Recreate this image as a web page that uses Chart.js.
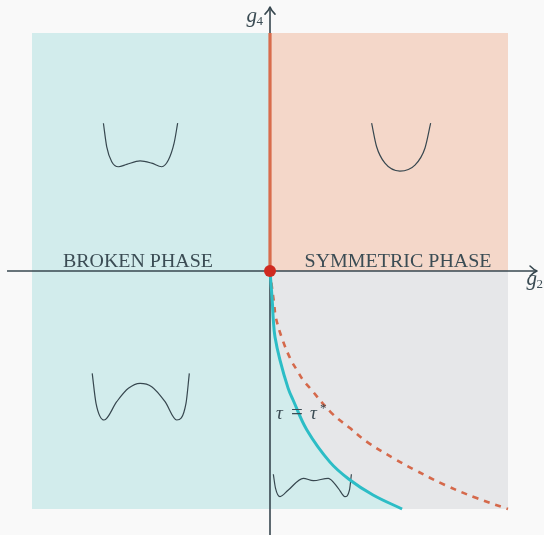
<!DOCTYPE html>
<html>
<head>
<meta charset="utf-8">
<script src="https://cdn.jsdelivr.net/npm/chart.js@4.4.3/dist/chart.umd.min.js"></script>
<style>
  html, body { margin: 0; padding: 0; background: #f9f9f9; }
  #wrap { width: 544px; height: 535px; position: relative; }
</style>
</head>
<body>
<div id="wrap"><canvas id="phaseChart"></canvas></div>
<script>
// phase diagram in the (g2, g4) plane, all values in plot units (-1..1 box)

// cyan boundary tau = tau*
const tauX = [0, 0.003, 0.010, 0.014, 0.021, 0.042, 0.076, 0.097, 0.155, 0.252, 0.336, 0.433, 0.555];
const tauY = [0, -0.038, -0.134, -0.206, -0.277, -0.374, -0.492, -0.542, -0.668, -0.803, -0.878, -0.941, -1.0];

// dashed orange curve
const dashX = [0, 0.007, 0.017, 0.025, 0.053, 0.088, 0.113, 0.139, 0.168, 0.259, 0.336, 0.406, 0.525, 0.609, 0.735, 0.868, 1.0];
const dashY = [0, -0.059, -0.134, -0.197, -0.290, -0.374, -0.416, -0.458, -0.492, -0.597, -0.660, -0.717, -0.790, -0.836, -0.899, -0.954, -1.0];

// little potential sketches
const potTopLeftX = [-0.700, -0.686, -0.665, -0.637, -0.602, -0.546, -0.497, -0.455, -0.427, -0.403, -0.388];
const potTopLeftY = [0.621, 0.522, 0.459, 0.438, 0.448, 0.463, 0.453, 0.438, 0.466, 0.537, 0.621];
const potTopRightX = [0.427, 0.448, 0.483, 0.546, 0.609, 0.651, 0.675];
const potTopRightY = [0.621, 0.522, 0.453, 0.420, 0.445, 0.516, 0.621];
const potBotLeftX = [-0.747, -0.731, -0.697, -0.644, -0.595, -0.546, -0.497, -0.441, -0.392, -0.353, -0.339];
const potBotLeftY = [-0.430, -0.556, -0.626, -0.549, -0.493, -0.472, -0.486, -0.549, -0.626, -0.556, -0.430];
const potBotRightX = [0.014, 0.023, 0.042, 0.077, 0.140, 0.182, 0.245, 0.287, 0.315, 0.334, 0.342];
const potBotRightY = [-0.854, -0.912, -0.948, -0.920, -0.871, -0.881, -0.871, -0.913, -0.948, -0.920, -0.854];

// box and axis extents
const boxMin = -1, boxMax = 1;
const axisXExt = [-1.105, 1.122];
const axisYExt = [-1.109, 1.109];

const phaseLabels = ['BROKEN PHASE', 'SYMMETRIC PHASE'];
const phaseLabelX = [-0.555, 0.538];
const labelBaseY = 0.015;

const INK = '#37474f';
const TEAL = '#d2ecec';
const SALMON = '#f4d7c9';
const GREY = '#e6e7e9';

const pts = (xs, ys) => xs.map((x, i) => ({x, y: ys[i]}));

function curve(xs, ys, extra) {
  return Object.assign({
    data: pts(xs, ys), pointRadius: 0, fill: false,
    borderColor: INK, borderWidth: 1.2, cubicInterpolationMode: 'monotone'
  }, extra);
}

function rect(x0, x1, top, bottom, color, order) {
  return {
    data: [{x: x0, y: top}, {x: x1, y: top}], pointRadius: 0, borderWidth: 0,
    fill: {value: bottom}, backgroundColor: color, order
  };
}

const smooth = {cubicInterpolationMode: 'default', tension: 0.4};

const datasets = [
  rect(boxMin, 0, boxMax, boxMin, TEAL, 20),
  rect(0, boxMax, boxMax, 0, SALMON, 20),
  rect(0, boxMax, 0, boxMin, GREY, 19),
  // teal wedge under the tau* curve
  Object.assign({data: pts(tauX, tauY), pointRadius: 0, borderWidth: 0, fill: {value: boxMin},
   backgroundColor: TEAL, order: 18}, smooth),
  // axes
  curve(axisXExt, [0, 0], {borderWidth: 1.6, cubicInterpolationMode: 'default', order: 10}),
  curve([0, 0], axisYExt, {borderWidth: 1.6, cubicInterpolationMode: 'default', order: 10}),
  curve(potTopLeftX, potTopLeftY, {order: 8}),
  curve(potTopRightX, potTopRightY, {order: 8}),
  curve(potBotLeftX, potBotLeftY, {order: 8}),
  curve(potBotRightX, potBotRightY, {order: 8}),
  curve(dashX, dashY, Object.assign({borderColor: '#d5694b', borderWidth: 2.6, borderDash: [6, 6], order: 6}, smooth)),
  curve(tauX, tauY, Object.assign({borderColor: '#2cbdc6', borderWidth: 3, order: 5}, smooth)),
  curve([0, 0], [0, boxMax], {borderColor: '#d86c4c', borderWidth: 3.2, cubicInterpolationMode: 'default', order: 4}),
  {data: [{x: 0, y: 0}], showLine: false, pointRadius: 6, pointBorderWidth: 0,
   pointBackgroundColor: '#cf2a20', order: 1}
];

// text + arrow heads, placed through the scales
const decor = {
  id: 'decor',
  afterDatasetsDraw(chart) {
    const {ctx, scales: {x, y}} = chart;
    const px = v => x.getPixelForValue(v), py = v => y.getPixelForValue(v);
    ctx.save();
    ctx.strokeStyle = INK;
    ctx.lineWidth = 1.6;
    ctx.lineCap = 'round';
    ctx.lineJoin = 'round';
    // arrow on x axis
    let tx = px(axisXExt[1]), ty = py(0);
    ctx.beginPath();
    ctx.moveTo(tx - 7, ty - 5); ctx.quadraticCurveTo(tx - 3, ty - 1, tx, ty);
    ctx.quadraticCurveTo(tx - 3, ty + 1, tx - 7, ty + 5);
    ctx.stroke();
    // arrow on y axis
    tx = px(0); ty = py(axisYExt[1]);
    ctx.beginPath();
    ctx.moveTo(tx - 5, ty + 7); ctx.quadraticCurveTo(tx - 1, ty + 3, tx, ty);
    ctx.quadraticCurveTo(tx + 1, ty + 3, tx + 5, ty + 7);
    ctx.stroke();

    ctx.fillStyle = '#3b4c54';
    ctx.textBaseline = 'alphabetic';
    ctx.textAlign = 'left';
    const widths = [150, 187];
    phaseLabels.forEach((t, i) => {
      ctx.font = '19px "Liberation Serif", serif';
      const w = ctx.measureText(t).width;
      const cx = px(phaseLabelX[i]), by = py(labelBaseY);
      ctx.save();
      ctx.translate(cx - widths[i] / 2, by);
      ctx.scale(widths[i] / w, 1);
      ctx.fillText(t, 0, 0);
      ctx.restore();
    });

    // tau = tau*
    let lx = px(0.025), ly = py(-0.622);
    ctx.font = 'italic 19px "Liberation Serif", serif';
    ctx.fillText('\u03C4', lx, ly);
    ctx.font = '21px "Liberation Serif", serif';
    ctx.fillText('=', lx + 15, ly);
    ctx.font = 'italic 19px "Liberation Serif", serif';
    ctx.fillText('\u03C4', lx + 34, ly);
    ctx.font = '13px "Liberation Serif", serif';
    ctx.fillText('*', lx + 44, ly - 7);

    // axis names
    const axisName = (g, sub, gx, gy) => {
      ctx.font = 'italic 21px "Liberation Serif", serif';
      ctx.fillText(g, gx, gy);
      const w = ctx.measureText(g).width;
      ctx.font = '13px "Liberation Serif", serif';
      ctx.fillText(sub, gx + w - 0.5, gy + 3);
    };
    axisName('g', '4', px(-0.099), py(1.048));
    axisName('g', '2', px(1.078), py(-0.059));
    ctx.restore();
  }
};

new Chart(document.getElementById('phaseChart'), {
  type: 'line',
  data: {datasets},
  options: {
    responsive: true,
    maintainAspectRatio: false,
    animation: false,
    events: [],
    layout: {padding: 0, autoPadding: false},
    plugins: {legend: {display: false}, tooltip: {enabled: false}},
    scales: {
      x: {type: 'linear', min: -1.1345, max: 1.1513, display: false},
      y: {type: 'linear', min: -1.1092, max: 1.1387, display: false}
    }
  },
  plugins: [decor]
});
</script>
</body>
</html>
